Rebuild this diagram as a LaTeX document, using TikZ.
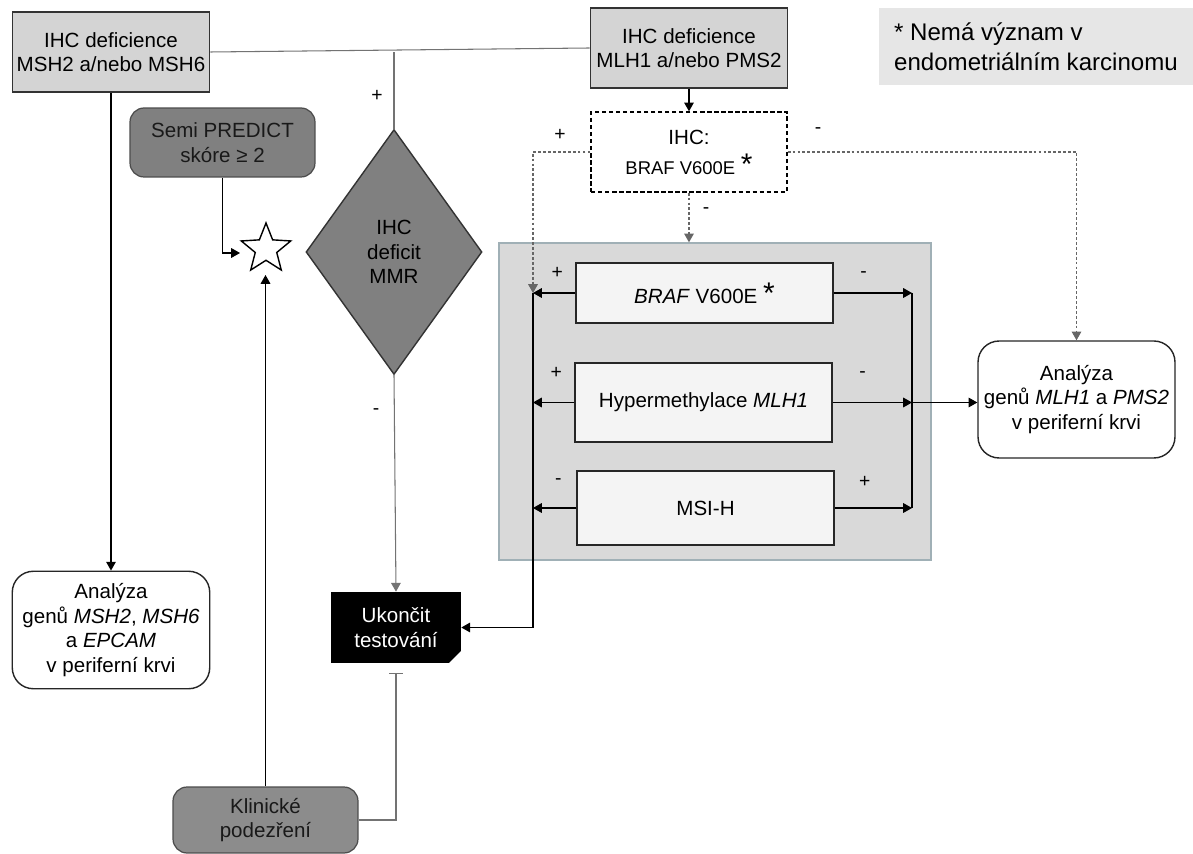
\documentclass[tikz,border=0pt]{standalone}
\usepackage{fontspec}
\setmainfont{Liberation Sans}
\usetikzlibrary{arrows.meta,positioning,calc,shapes.geometric,shapes.misc}
\definecolor{boxgray}{RGB}{212,212,212}
\definecolor{darkfill}{RGB}{128,128,128}
\definecolor{klinfill}{RGB}{140,140,140}
\definecolor{panelgray}{RGB}{217,217,217}
\definecolor{panelline}{RGB}{160,176,182}
\definecolor{notegray}{RGB}{230,230,230}
\definecolor{rowfill}{RGB}{244,244,244}
\definecolor{linegray}{RGB}{115,115,115}

\tikzset{
  base/.style={font=\fontsize{11.7}{14}\selectfont, align=center, inner sep=2pt},
  ihcbox/.style={base, draw=black!80, line width=1.1pt, fill=boxgray,
    minimum width=3.94cm, minimum height=1.6cm},
  dashbox/.style={base, draw=black, line width=0.8pt, dash pattern=on 2.5pt off 1.5pt,
    fill=white, minimum width=3.92cm, minimum height=1.6cm},
  greybox/.style={base, draw=black!70, line width=0.7pt, rounded corners=8pt,
    fill=darkfill, text=black!90, minimum width=3.7cm},
  resultbox/.style={base, draw=black!85, line width=0.8pt, rounded corners=12pt,
    fill=white, minimum width=3.95cm, minimum height=2.35cm},
  rowbox/.style={base, draw=black!85, line width=0.8pt, fill=rowfill,
    minimum width=5.14cm},
  panel/.style={draw=panelline, line width=0.8pt, fill=panelgray,
    minimum width=8.64cm, minimum height=6.34cm},
  notebox/.style={font=\fontsize{13.7}{17}\selectfont, align=left, fill=notegray,
    minimum width=6.28cm, minimum height=1.54cm},
  stopbox/.style={base, chamfered rectangle, chamfered rectangle corners=south east,
    chamfered rectangle xsep=0.12cm, chamfered rectangle ysep=0.12cm,
    fill=black, text=white, minimum width=2.6cm, minimum height=1.42cm},
  sgn/.style={font=\fontsize{11}{13}\selectfont, inner sep=0pt},
  gline/.style={draw=linegray, line width=0.6pt},
  bline/.style={draw=black, line width=0.6pt},
  dline/.style={draw=black!60, line width=0.6pt, dash pattern=on 1.6pt off 1.2pt}
}

\begin{document}
\begin{tikzpicture}[x=0.02cm, y=-0.02cm, >={Triangle[length=5pt,width=5.5pt]}]
  \useasboundingbox (0,0) rectangle (1193,854);

  % top row
  \node[ihcbox] (msh) at (111,52) {IHC deficience\\MSH2 a/nebo MSH6};
  \node[ihcbox] (mlh) at (689,48) {IHC deficience\\MLH1 a/nebo PMS2};
  \node[notebox] (note) at (1036,46.5) {* Nemá význam v\\endometriálním karcinomu};

  % left branch
  \node[greybox, minimum height=1.38cm] (semi) at (222.5,142.5) {Semi PREDICT\\skóre ≥ 2};
  \node[star, star points=5, star point ratio=2.3, minimum size=1.04cm, inner sep=0pt,
    draw, line width=0.8pt, fill=white] (star) at (266,249) {};
  \node[diamond, base, inner sep=0pt, draw=black!80, line width=0.8pt, fill=darkfill,
    minimum width=3.52cm, minimum height=4.9cm] (diam) at (394,252) {IHC\\deficit\\MMR};
  \node[stopbox] (stop) at (396,627.5) {Ukončit\\testování};
  \node[greybox, fill=klinfill, minimum height=1.32cm] (klin) at (265.5,820) {Klinické\\podezření};
  \node[resultbox] (anamsh) at (111,630)
    {Analýza\\genů \textit{MSH2}, \textit{MSH6}\\a \textit{EPCAM}\\v periferní krvi};

  % right branch
  \node[dashbox] (ihc) at (689,152)
    {IHC:\\[3pt]{\fontsize{10.5}{12}\selectfont BRAF V600E} {\fontsize{17}{12}\selectfont *}};
  \node[panel] (panel) at (715,401.5) {};
  \node[rowbox, minimum height=1.2cm] (braf) at (704.5,293)
    {\textit{BRAF} V600E {\fontsize{17}{12}\selectfont *}};
  \node[rowbox, minimum height=1.58cm] (hyp) at (703.5,402.5) {Hypermethylace \textit{MLH1}};
  \node[rowbox, minimum height=1.48cm] (msi) at (705.5,508) {MSI-H};
  \node[resultbox, minimum width=3.94cm, minimum height=2.34cm] (anamlh) at (1076.5,399.5)
    {Analýza\\genů \textit{MLH1} a \textit{PMS2}\\v periferní krvi};

  \coordinate (lbus) at (533,293);
  \coordinate (rbus) at (912,293);

  % connectors, top
  \draw[gline] (msh.east) -- (mlh.west);
  \draw[gline] (diam.north) -- (diam.north |- msh.east);
  \draw[gline,->] (diam.south) -- (stop.north);
  \draw[gline,-{Bar[width=7.5pt]}] (klin.east) -| ([yshift=-0.2cm]stop.south);
  \draw[bline,->] (msh.south) -- (anamsh.north);
  \draw[bline,->,shorten >=0.52cm] (semi.south) |- ([yshift=-0.08cm]star.center);
  \draw[bline,->,shorten >=0.52cm] (klin.north) -- (klin.north |- star.center);
  \draw[bline,->] (mlh.south) -- (ihc.north);

  % dotted IHC outcomes
  \draw[dline,->] (ihc.west) -| (lbus);
  \draw[dline,->] (ihc.east) -| (anamlh.north);
  \draw[dline,->] (ihc.south) -- (ihc.south |- panel.north);

  % molecular tests
  \foreach \r/\lsg/\rsg in {braf/+/-, hyp/+/-, msi/-/+} {
    \draw[bline,->] (\r.west) -- (\r.west -| lbus);
    \draw[bline,->] (\r.east) -- (\r.east -| rbus);
    \node[sgn] at ([xshift=-0.36cm,yshift=-0.22cm]\r.north west) {\lsg};
    \node[sgn] at ([xshift=0.6cm,yshift=-0.24cm]\r.north east) {\rsg};
  }
  \draw[bline,->] (lbus) |- (stop.east);
  \draw[bline] (rbus) -- (rbus |- msi.east);
  \draw[bline,->] (hyp.east -| rbus) -- (hyp.east -| anamlh.west);

  % signs
  \node[sgn] at (377,96) {+};
  \node[sgn] at (376,412) {-};
  \node[sgn] at (560,135) {+};
  \node[sgn] at (818,131) {-};
  \node[sgn] at (706,211) {-};
\end{tikzpicture}
\end{document}
